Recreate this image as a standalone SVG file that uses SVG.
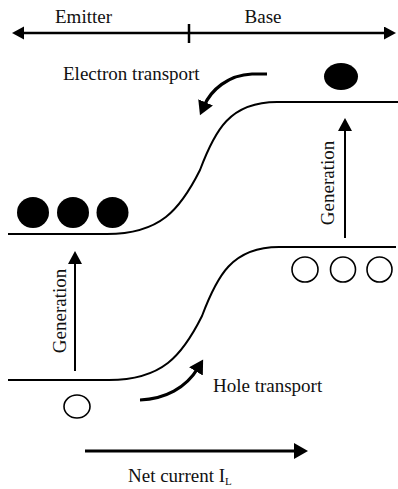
<svg xmlns="http://www.w3.org/2000/svg" width="398" height="489" viewBox="0 0 398 489">
<style>
  text { font-family: "Liberation Serif", "Times New Roman", serif; font-size: 19px; fill: #111; }
  .band { fill: none; stroke: #000; stroke-width: 2; }
  .axis { fill: none; stroke: #000; stroke-width: 2.5; }
  .gen { fill: none; stroke: #000; stroke-width: 2; }
  .flow { fill: none; stroke: #000; stroke-width: 3.2; }
  .electron { fill: #000; }
  .hole { fill: #fff; stroke: #000; stroke-width: 1.6; }
</style>
<defs>
  <marker id="ah" markerUnits="userSpaceOnUse" markerWidth="14" markerHeight="14" refX="4" refY="6.5" orient="auto-start-reverse">
    <path d="M0,0 L12,6.5 L0,13 z" fill="#000"/>
  </marker>
  <marker id="ahg" markerUnits="userSpaceOnUse" markerWidth="16" markerHeight="16" refX="4" refY="7" orient="auto">
    <path d="M0,0 L13,7 L0,14 z" fill="#000"/>
  </marker>
  <marker id="ahf" markerUnits="userSpaceOnUse" markerWidth="18" markerHeight="18" refX="4" refY="8" orient="auto">
    <path d="M0,0 L14,8 L0,16 z" fill="#000"/>
  </marker>
</defs>

<g id="region-axis">
  <line class="axis" x1="20" y1="33" x2="388" y2="33" marker-start="url(#ah)" marker-end="url(#ah)"/>
  <line class="axis" x1="189" y1="24" x2="189" y2="43"/>
  <text x="83.5" y="23" text-anchor="middle">Emitter</text>
  <text x="263" y="23" text-anchor="middle">Base</text>
</g>

<g id="conduction-band">
  <path class="band" d="M8,234 L107,234 C160,234 180,210 200,170 C215,130 230,102 277,102 L398,102"/>
</g>

<g id="valence-band">
  <path class="band" d="M8,380 L109,380 C162,380 182,356 202,316 C217,276 232,247 279,247 L396,247"/>
</g>

<g id="emitter-electrons">
  <ellipse class="electron" cx="33" cy="212.5" rx="16" ry="15.5"/>
  <ellipse class="electron" cx="73" cy="212.5" rx="16" ry="15.5"/>
  <ellipse class="electron" cx="112.5" cy="212.5" rx="16" ry="15.5"/>
</g>

<g id="base-electron">
  <ellipse class="electron" cx="341" cy="76.5" rx="17" ry="13.5"/>
</g>

<g id="base-holes">
  <ellipse class="hole" cx="305" cy="269.5" rx="13" ry="12.5"/>
  <ellipse class="hole" cx="343" cy="269.5" rx="12.5" ry="12.5"/>
  <ellipse class="hole" cx="379.5" cy="269.5" rx="12.5" ry="12.5"/>
</g>

<g id="emitter-hole">
  <ellipse class="hole" cx="77" cy="406.5" rx="13" ry="11.5"/>
</g>

<g id="generation-emitter">
  <text x="66" y="311" text-anchor="middle" transform="rotate(-90 66 311)">Generation</text>
</g>

<g id="generation-base">
  <text x="334" y="183" text-anchor="middle" transform="rotate(-90 334 183)">Generation</text>
</g>

<g id="electron-transport">
  <text x="63" y="80">Electron transport</text>
</g>

<g id="hole-transport">
  <text x="213" y="392">Hole transport</text>
</g>

<g id="net-current">
  <text x="128" y="482">Net current I<tspan font-size="11" dy="3">L</tspan></text>
</g>

<g id="connectors">
  <line class="gen" x1="75" y1="371" x2="75" y2="260" marker-end="url(#ahg)"/>
  <line class="gen" x1="345" y1="238" x2="345" y2="127" marker-end="url(#ahg)"/>
  <path class="flow" d="M267,74 L252,74 C228,75 211,90 204,106" marker-end="url(#ahf)"/>
  <path class="flow" d="M140,400 C165,399 186,388 198,368" marker-end="url(#ahf)"/>
  <line class="flow" x1="85" y1="451" x2="298" y2="451" marker-end="url(#ahf)"/>
</g>
</svg>
